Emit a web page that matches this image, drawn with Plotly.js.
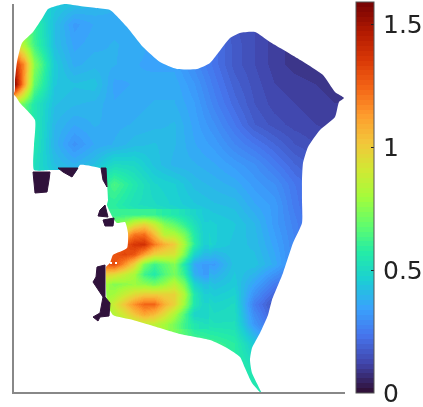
<!DOCTYPE html>
<html><head><meta charset="utf-8">
<script src="https://cdn.plot.ly/plotly-3.0.1.min.js"></script>
<style>html,body{margin:0;padding:0;background:#fff}#chart{filter:blur(0.45px)}</style></head>
<body><div id="chart" style="width:423px;height:407px"></div>
<script>
const gridX = [14,24,34,54,74,94,114,134,154,174,194,214,234,254,274,294,314,334,354];
const gridY = [4,24,44,64,84,104,124,144,164,184,204,224,244,264,284,304,324,344,364,384,404];
const values = [
[.50,.50,.50,.45,.42,.40,.38,.36,.33,.30,.28,.24,.18,.16,.13,.12,.10,.10,.10],
[.75,.70,.60,.42,.33,.36,.37,.36,.33,.30,.27,.22,.16,.14,.11,.10,.10,.10,.10],
[.95,.80,.62,.42,.35,.37,.38,.37,.35,.33,.29,.23,.17,.14,.11,.09,.08,.09,.10],
[1.40,1.15,.75,.45,.37,.39,.38,.36,.35,.35,.29,.23,.17,.14,.11,.09,.08,.08,.10],
[1.58,1.12,.68,.44,.42,.43,.35,.36,.37,.37,.32,.25,.19,.15,.12,.11,.10,.09,.10],
[.78,.68,.55,.42,.40,.39,.36,.37,.38,.38,.34,.27,.21,.16,.13,.12,.11,.10,.10],
[.60,.60,.56,.40,.36,.38,.37,.38,.39,.40,.35,.30,.24,.18,.15,.13,.12,.11,.10],
[.58,.58,.55,.39,.31,.36,.38,.41,.42,.40,.36,.33,.28,.24,.20,.16,.14,.12,.10],
[.55,.55,.52,.42,.38,.42,.50,.49,.43,.39,.38,.36,.33,.30,.25,.20,.17,.14,.12],
[.50,.50,.50,.48,.47,.52,.64,.55,.48,.46,.41,.39,.37,.33,.30,.24,.20,.16,.14],
[.55,.55,.55,.55,.58,.60,.58,.52,.50,.47,.44,.42,.41,.36,.33,.25,.20,.16,.14],
[.65,.65,.65,.65,.65,.65,.62,.62,.60,.56,.49,.46,.44,.40,.33,.27,.20,.16,.14],
[1.10,1.10,1.10,1.10,1.10,1.10,1.15,1.32,1.25,.98,.58,.46,.43,.41,.35,.28,.20,.16,.14],
[1.30,1.30,1.30,1.30,1.30,1.30,1.30,1.12,.62,.75,.36,.33,.43,.43,.37,.28,.20,.16,.14],
[.90,.90,.90,.90,.90,.90,.75,.82,.75,.85,.48,.42,.45,.35,.25,.20,.16,.14,.14],
[.80,.80,.80,.80,.80,.80,.95,1.15,1.20,.95,.55,.48,.50,.26,.15,.12,.12,.12,.12],
[.75,.75,.75,.75,.75,.75,.75,.85,.85,.75,.55,.52,.52,.32,.20,.15,.14,.14,.14],
[.70,.70,.70,.70,.70,.70,.70,.70,.70,.68,.65,.62,.58,.45,.35,.25,.20,.20,.20],
[.60,.60,.60,.60,.60,.60,.60,.60,.60,.60,.60,.60,.58,.52,.45,.35,.30,.30,.30],
[.55,.55,.55,.55,.55,.55,.55,.55,.55,.55,.55,.55,.55,.55,.50,.45,.40,.40,.40],
[.55,.55,.55,.55,.55,.55,.55,.55,.55,.55,.55,.55,.55,.55,.50,.45,.40,.40,.40]
];
const hotX = [104,114,124,134,144,154,164,174,184,194,204];
const hotY = [214,224,234,244,254,264,274,284,294,304,314,324];
const hotValues = [
[.60,.60,.60,.60,.60,.60,.57,.55,.52,.48,.45],
[.68,.72,.78,.92,.98,.88,.74,.68,.60,.52,.46],
[1.00,.95,1.05,1.20,1.22,1.05,.85,.82,.72,.56,.46],
[1.15,1.15,1.28,1.36,1.38,1.20,1.08,1.00,.80,.58,.46],
[1.25,1.28,1.32,1.28,1.12,.98,.95,.92,.72,.48,.41],
[1.25,1.30,1.15,.98,.72,.62,.68,.74,.55,.36,.33],
[1.00,.95,.88,.80,.62,.56,.65,.72,.60,.38,.33],
[.80,.74,.76,.78,.76,.72,.78,.85,.72,.48,.42],
[.76,.80,.88,.95,1.00,1.00,.98,.98,.82,.55,.46],
[.78,.90,1.02,1.15,1.24,1.24,1.08,.98,.78,.55,.48],
[.76,.84,.92,1.02,1.10,1.05,.95,.82,.65,.48,.48],
[.75,.76,.80,.84,.86,.86,.80,.72,.62,.55,.52]
];
const outlineX = [14,15,17,22,33,43,48,56,65,80,96,110,127,143,160,177,197,210,230,240,255,270,297,323,335,344,339,335,320,308,303,302,302,302,293,283,272,268,260,252,250,252,262,252,245,240,227,210,180,150,133,113,107,106,106,110,113,127,128,125,117,113,107,108,105,100,80,75,60,50,34,34,35,20,14];
const outlineY = [93,80,62,43,32,17,9,6,4,6,8,10,27,47,62,69,69,63,38,33,32,42,58,75,92,98,102,117,130,147,163,180,200,223,243,273,300,315,333,348,360,373,394,383,368,357,348,340,334,325,320,315,303,285,267,263,255,248,233,222,223,218,205,200,170,168,165,173,170,170,170,145,120,103,95];
const maskX = [-50,-50,500,500,-50,-50,14];
const maskY = [95,500,500,-50,-50,93,93];
const islandX = [33,50,49,47,35,33,null,58,78,72,63,58,null,101,106,107,103,101,null,105,108,98,100,105,null,103,114,113,105,103,null,97,105,105,110,109,100,98,93,100,103,93,96,97];
const islandY = [172,172,180,192,193,172,null,168,168,177,172,168,null,168,168,187,180,168,null,205,217,216,210,205,null,220,218,226,226,220,null,267,265,297,303,316,317,321,317,313,297,282,277,267];
const dashX = [110,112,null,115,117];
const dashY = [263,263,null,263,263];
const tickValues = [0,0.5,1,1.5];
const tickLabels = ['0','0.5','1','1.5'];
const turbo = ['#30123b','#4145ab','#4675ed','#39a2fc','#1bcfd4','#24eca6','#61fc6c','#a4fc3b','#d1e834','#f3c63a','#fe9b2d','#f36315','#d93806','#b11901','#7a0403'];

function hex(c){return [1,3,5].map(i=>parseInt(c.substr(i,2),16));}
function colorAt(t){
  const p=t*(turbo.length-1), i=Math.min(Math.floor(p),turbo.length-2), f=p-i;
  const a=hex(turbo[i]), b=hex(turbo[i+1]);
  return 'rgb('+a.map((v,k)=>Math.round(v+(b[k]-v)*f)).join(',')+')';
}
const steps=80, scale=[];
for(let s=0;s<steps;s++){const c=colorAt(s/(steps-1));scale.push([s/steps,c]);scale.push([(s+1)/steps,c]);}

const full = outlineX.concat(maskX), fullY = outlineY.concat(maskY);
Plotly.newPlot('chart',[
 {type:'heatmap',x:gridX,y:gridY,z:values,zmin:0,zmax:1.59,zsmooth:'best',colorscale:scale,hoverinfo:'skip',
  colorbar:{x:342/331,xanchor:'left',xpad:0,y:-1/388,yanchor:'bottom',ypad:0,
    lenmode:'pixels',len:391,thicknessmode:'pixels',thickness:18,outlinecolor:'#555',outlinewidth:1,
    tickmode:'array',tickvals:tickValues,ticktext:tickLabels,ticks:'inside',ticklen:3,tickwidth:1,tickcolor:'#222',
    ticklabeloverflow:'allow',
    tickfont:{family:'DejaVu Sans',size:25,color:'#222'}}},
 {type:'heatmap',x:hotX,y:hotY,z:hotValues,zmin:0,zmax:1.59,zsmooth:'best',colorscale:scale,showscale:false,hoverinfo:'skip'},
 {type:'scatter',mode:'lines',x:full,y:fullY,fill:'toself',fillcolor:'#fff',line:{width:0,color:'#fff',shape:'spline',smoothing:0.5},hoverinfo:'skip',showlegend:false},
 {type:'scatter',mode:'lines',x:islandX,y:islandY,fill:'toself',fillcolor:'#30123b',line:{width:1,color:'#30123b'},hoverinfo:'skip',showlegend:false},
 {type:'scatter',mode:'lines',x:dashX,y:dashY,line:{width:2,color:'#fff'},hoverinfo:'skip',showlegend:false}
],{
 width:423,height:407,paper_bgcolor:'#fff',plot_bgcolor:'#fff',showlegend:false,
 margin:{l:14,r:78,t:4,b:15,pad:0,autoexpand:false},
 xaxis:{range:[14,345],showgrid:false,zeroline:false,showticklabels:false,ticks:'',showline:true,linecolor:'#888',linewidth:1.5,fixedrange:true},
 yaxis:{range:[392,4],showgrid:false,zeroline:false,showticklabels:false,ticks:'',showline:true,linecolor:'#888',linewidth:1.5,fixedrange:true}
},{displayModeBar:false,responsive:false}).then(()=>{
 document.querySelectorAll('.colorbar text').forEach(t=>t.setAttribute('dx','3'));
});
</script></body></html>
